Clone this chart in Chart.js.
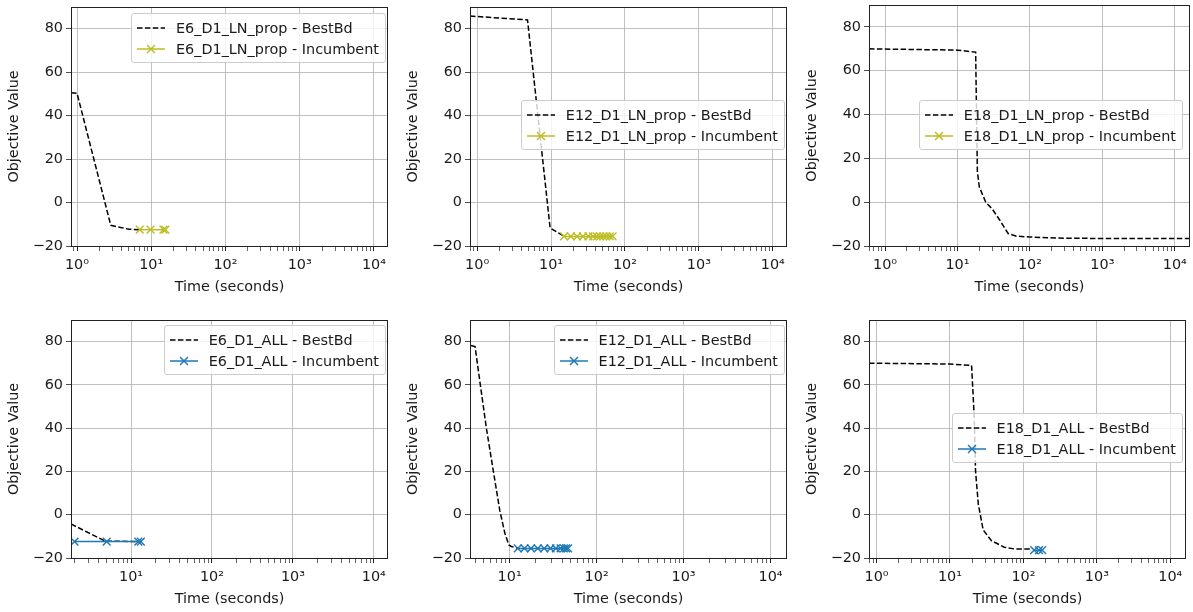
<!DOCTYPE html>
<html>
<head>
<meta charset="utf-8">
<script src="https://cdn.jsdelivr.net/npm/chart.js@4.4.1/dist/chart.umd.min.js"></script>
<style>
  html, body { margin: 0; padding: 0; background: #fff; overflow: hidden; }
  #wrap { position: relative; width: 1193px; height: 612px; overflow: hidden; }
  #wrap canvas { position: absolute; }
  .leg {
    position: absolute; background: rgba(255,255,255,0.8);
    border: 1px solid #cccccc; border-radius: 3px;
    padding: 3px 6px 3px 5px; font: 14.4px "DejaVu Sans", sans-serif; color: #1a1a1a;
  }
  .leg .row { display: flex; align-items: center; height: 21px; white-space: nowrap; }
  .leg svg { margin-right: 11px; flex: none; }
</style>
</head>
<body>
<div id="wrap"></div>
<script>
// ---- data ----
var seriesNames = ['E6_D1_LN_prop', 'E12_D1_LN_prop', 'E18_D1_LN_prop',
                   'E6_D1_ALL', 'E12_D1_ALL', 'E18_D1_ALL'];

var e6LnBdTime  = [0.83, 1.0, 2.85, 5.0, 7.0];
var e6LnBdVal   = [50.5, 50.3, -10.5, -12.3, -12.5];
var e6LnIncTime = [7.0, 9.8, 14.6, 15.5];
var e6LnIncVal  = [-12.5, -12.5, -12.5, -12.5];

var e12LnBdTime  = [0.8, 4.8, 9.7, 15.0];
var e12LnBdVal   = [85.8, 84.0, -11.7, -15.5];
var e12LnIncTime = [15, 18.5, 22.5, 27, 32, 37, 41.5, 46, 51, 56, 62, 68];
var e12LnIncVal  = [-15.6, -15.6, -15.6, -15.6, -15.6, -15.6, -15.6, -15.6, -15.6, -15.6, -15.6, -15.6];

var e18LnBdTime  = [0.6, 10, 17.8, 18.8, 20, 24.5, 30, 38, 50, 65, 100, 300, 16200];
var e18LnBdVal   = [70, 69.4, 68.5, 14, 7, 0, -3, -8, -14.3, -15.5, -15.9, -16.5, -16.6];
var e18LnIncTime = [];
var e18LnIncVal  = [];

var e6AllBdTime  = [1.81, 4.8, 13.2];
var e6AllBdVal   = [-4.3, -12.2, -12.4];
var e6AllIncTime = [2.0, 5.0, 12.3, 13.2];
var e6AllIncVal  = [-12.4, -12.4, -12.4, -12.4];

var e12AllBdTime  = [3.6, 4.0, 4.6, 5.4, 6.5, 7.7, 8.8, 9.8, 10.5, 12.4];
var e12AllBdVal   = [78.2, 77.7, 60, 40, 20, 2, -8.5, -14, -14.7, -15.5];
var e12AllIncTime = [12.4, 14.8, 17.6, 21, 25, 29.5, 34, 38.5, 42, 44.5, 47];
var e12AllIncVal  = [-15.6, -15.6, -15.6, -15.6, -15.6, -15.6, -15.6, -15.6, -15.6, -15.6, -15.6];

var e18AllBdTime  = [0.79, 10, 19.7, 21.4, 22.3, 24.3, 28.3, 36.6, 55, 75, 132];
var e18AllBdVal   = [70, 69.6, 69, 45, 20, 5, -7, -12, -15, -15.8, -15.9];
var e18AllIncTime = [140, 163, 180];
var e18AllIncVal  = [-16.4, -16.4, -16.4];

var yTicks = [-20, 0, 20, 40, 60, 80];
var yRange = [-20, 90];
var xRanges = [[0.83, 15500], [0.8, 15600], [0.6, 16200],
               [1.81, 15000], [3.5, 15500], [0.79, 16400]];

var bdTimes = [e6LnBdTime, e12LnBdTime, e18LnBdTime, e6AllBdTime, e12AllBdTime, e18AllBdTime];
var bdVals  = [e6LnBdVal, e12LnBdVal, e18LnBdVal, e6AllBdVal, e12AllBdVal, e18AllBdVal];
var incTimes = [e6LnIncTime, e12LnIncTime, e18LnIncTime, e6AllIncTime, e12AllIncTime, e18AllIncTime];
var incVals  = [e6LnIncVal, e12LnIncVal, e18LnIncVal, e6AllIncVal, e12AllIncVal, e18AllIncVal];

// ---- layout ----
var areaLefts = [71, 470, 869];
var areaTops = [5, 318];
var areaW = 321, areaHs = [241, 240];
var yAxisW = 71, xAxisH = 55;
// legend right edge / top, in page pixels
var legendPos = [[386, 13], [785, 100], [1183, 100], [386, 325], [785, 325], [1183, 413]];
var incColors = ['#bcbd22', '#bcbd22', '#bcbd22', '#1f77b4', '#1f77b4', '#1f77b4'];

var FONT = 'DejaVu Sans';
var FSIZE = 14.4;
var TXT = '#1a1a1a';
var SUP = {'0':'\u2070','1':'\u00b9','2':'\u00b2','3':'\u00b3','4':'\u2074','5':'\u2075','6':'\u2076','7':'\u2077','8':'\u2078','9':'\u2079','-':'\u207b'};

function isDecade(v) {
  var l = Math.log10(v);
  return Math.abs(l - Math.round(l)) < 1e-9;
}
function supText(n) {
  return String(n).split('').map(function(c){ return SUP[c]; }).join('');
}
function logTicks(min, max) {
  var out = [];
  for (var k = Math.floor(Math.log10(min)); k <= Math.ceil(Math.log10(max)); k++) {
    for (var m = 1; m <= 9; m++) {
      var v = m * Math.pow(10, k);
      if (v >= min && v <= max) out.push({value: v});
    }
  }
  return out;
}
function pts(xs, ys) {
  return xs.map(function(x, i){ return {x: x, y: ys[i]}; });
}

// full box around the axes, like matplotlib spines
var framePlugin = {
  id: 'frame',
  afterDraw: function(chart) {
    var a = chart.chartArea, c = chart.ctx;
    c.save();
    c.strokeStyle = '#222';
    c.lineWidth = 1;
    c.strokeRect(Math.round(a.left) + 0.5, Math.round(a.top) + 0.5,
                 Math.round(a.right - a.left) - 1, Math.round(a.bottom - a.top));
    c.restore();
  }
};

var wrap = document.getElementById('wrap');

function makePanel(i) {
  var col = i % 3, row = Math.floor(i / 3);
  var left = areaLefts[col] - yAxisW, top = areaTops[row] - 5;
  var cv = document.createElement('canvas');
  cv.width = yAxisW + areaW + 3;
  cv.height = 5 + areaHs[row] + xAxisH;
  cv.style.left = left + 'px';
  cv.style.top = top + 'px';
  wrap.appendChild(cv);

  var name = seriesNames[i];
  var xr = xRanges[i];

  new Chart(cv, {
    type: 'line',
    data: {
      datasets: [{
        label: name + ' - BestBd',
        data: pts(bdTimes[i], bdVals[i]),
        borderColor: '#000',
        borderWidth: 1.5,
        borderDash: [5.5, 2.4],
        pointRadius: 0,
        tension: 0,
        order: 2
      }, {
        label: name + ' - Incumbent',
        data: pts(incTimes[i], incVals[i]),
        borderColor: incColors[i],
        borderWidth: 1.5,
        pointStyle: 'crossRot',
        pointRadius: 5.5,
        pointBorderWidth: 1.4,
        pointBorderColor: incColors[i],
        tension: 0,
        order: 1
      }]
    },
    options: {
      responsive: false,
      animation: false,
      devicePixelRatio: 1,
      layout: { padding: { left: 0, top: 5, right: 3, bottom: 0 } },
      plugins: { legend: { display: false }, tooltip: { enabled: false } },
      scales: {
        x: {
          type: 'logarithmic',
          min: xr[0],
          max: xr[1],
          afterBuildTicks: function(s) { s.ticks = logTicks(xr[0], xr[1]); },
          afterFit: function(s) { s.height = xAxisH; s.paddingLeft = 0; s.paddingRight = 0; },
          border: { display: false },
          grid: {
            color: function(ctx) { return ctx.tick && isDecade(ctx.tick.value) ? '#b0b0b0' : 'rgba(0,0,0,0)'; },
            lineWidth: 0.8,
            tickColor: '#222',
            tickLength: 5,
            tickWidth: function(ctx) { return ctx.tick && isDecade(ctx.tick.value) ? 1 : 0.7; }
          },
          ticks: {
            autoSkip: false,
            maxRotation: 0,
            padding: 6,
            color: TXT,
            font: { family: FONT, size: FSIZE },
            callback: function(v) { return isDecade(v) ? '10' + supText(Math.round(Math.log10(v))) : ''; }
          },
          title: {
            display: true, text: 'Time (seconds)', color: TXT,
            font: { family: FONT, size: FSIZE }, padding: { top: 0, bottom: 5 }
          }
        },
        y: {
          min: yRange[0],
          max: yRange[1],
          afterBuildTicks: function(s) { s.ticks = yTicks.map(function(v){ return {value: v}; }); },
          afterFit: function(s) { s.width = yAxisW; s.paddingTop = 0; s.paddingBottom = 0; },
          border: { display: false },
          grid: { color: '#b0b0b0', lineWidth: 0.8, tickColor: '#222', tickLength: 5 },
          ticks: {
            padding: 3,
            color: TXT,
            font: { family: FONT, size: FSIZE },
            callback: function(v) { return v < 0 ? '\u2212' + Math.abs(v) : String(v); }
          },
          title: {
            display: true, text: 'Objective Value', color: TXT,
            font: { family: FONT, size: FSIZE }, padding: { top: 6, bottom: 0 }
          }
        }
      }
    },
    plugins: [framePlugin]
  });

  // legend box inside the axes
  var leg = document.createElement('div');
  leg.className = 'leg';
  leg.style.right = (1193 - legendPos[i][0]) + 'px';
  leg.style.top = legendPos[i][1] + 'px';
  var c = incColors[i];
  leg.innerHTML =
    '<div class="row"><svg width="28" height="14"><line x1="0" y1="7" x2="28" y2="7" stroke="#000" stroke-width="1.5" stroke-dasharray="5.5 2.4"/></svg><span>' + name + ' - BestBd</span></div>' +
    '<div class="row"><svg width="28" height="14"><line x1="0" y1="7" x2="28" y2="7" stroke="' + c + '" stroke-width="1.5"/>' +
    '<line x1="10" y1="3" x2="18" y2="11" stroke="' + c + '" stroke-width="1.4"/><line x1="10" y1="11" x2="18" y2="3" stroke="' + c + '" stroke-width="1.4"/></svg><span>' + name + ' - Incumbent</span></div>';
  wrap.appendChild(leg);
}

for (var i = 0; i < 6; i++) makePanel(i);
</script>
</body>
</html>
